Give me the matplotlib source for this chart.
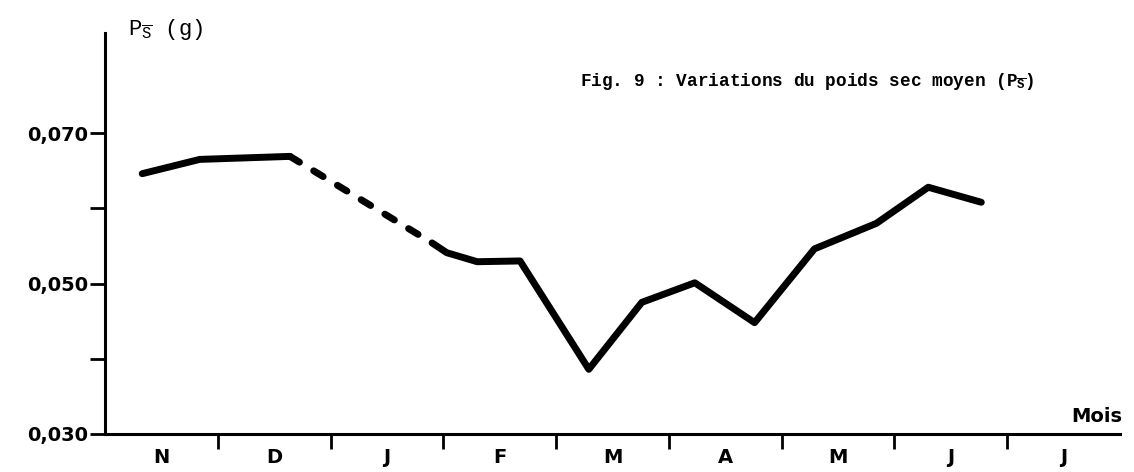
import matplotlib
matplotlib.use('Agg')
import matplotlib.pyplot as plt

months = ['N', 'D', 'J', 'F', 'M', 'A', 'M', 'J', 'J']
y_ticks = [0.030, 0.040, 0.050, 0.060, 0.070]
y_labels = ['0,030', '', '0,050', '', '0,070']

# x = position in months (0 = start of November), y = mean dry weight (g)
x_before = [0.33, 0.84, 1.64]
p_before = [0.0646, 0.0665, 0.0669]
x_gap = [1.64, 2.90]
p_gap = [0.0669, 0.0554]
x_after = [2.90, 3.03, 3.30, 3.68, 4.29, 4.76, 5.23, 5.76, 6.29, 6.84, 7.30, 7.77]
p_after = [0.0554, 0.0541, 0.0529, 0.0530, 0.0386, 0.0475, 0.0501, 0.0448,
           0.0546, 0.0580, 0.0628, 0.0608]

plt.rcParams['mathtext.fontset'] = 'custom'
plt.rcParams['mathtext.rm'] = 'Liberation Mono'
plt.rcParams['mathtext.bf'] = 'Liberation Mono:bold'

W, H = 1134, 472
fig = plt.figure(figsize=(W / 100, H / 100), dpi=100)
ax = fig.add_axes([105 / W, 1 - 434 / H, (1120 - 105) / W, (434 - 33) / H])

ax.plot(x_before, p_before, color='black', lw=5, solid_capstyle='round', solid_joinstyle='round')
ax.plot(x_gap, p_gap, color='black', lw=5, linestyle=(0, (1.6, 2.4)), dash_capstyle='round')
ax.plot(x_after, p_after, color='black', lw=5, solid_capstyle='round', solid_joinstyle='round')

ax.set_xlim(0, 9)
ax.set_ylim(0.030, 0.0833)
for s in ['top', 'right']:
    ax.spines[s].set_visible(False)
for s in ['left', 'bottom']:
    ax.spines[s].set_linewidth(2.2)

ax.set_xticks(range(1, 9))
ax.set_xticklabels([])
ax.set_xticks([i + 0.5 for i in range(9)], minor=True)
ax.set_xticklabels(months, minor=True, fontweight='bold', fontsize=14)
ax.tick_params(axis='x', which='major', direction='out', length=11, width=2)
ax.tick_params(axis='x', which='minor', length=0, pad=10)

ax.set_yticks(y_ticks)
ax.set_yticklabels(y_labels, fontweight='bold', fontsize=14)
ax.tick_params(axis='y', direction='out', length=11, width=2, pad=1)

fig.text(1122 / W, 1 - 422 / H, 'Mois', ha='right', va='baseline', fontweight='bold', fontsize=14)
fig.text(128 / W, 1 - 35 / H, r'P$_{\overline{\mathrm{S}}}$ (g)', ha='left', va='baseline',
         family='Liberation Mono', fontsize=16)
fig.text(580 / W, 1 - 86 / H, r'Fig. 9 : Variations du poids sec moyen (P$_{\overline{\mathbf{S}}}$)',
         ha='left', va='baseline', family='Liberation Mono', fontweight='bold', fontsize=12.8)

fig.savefig('out.png', dpi=100)
plt.close()
